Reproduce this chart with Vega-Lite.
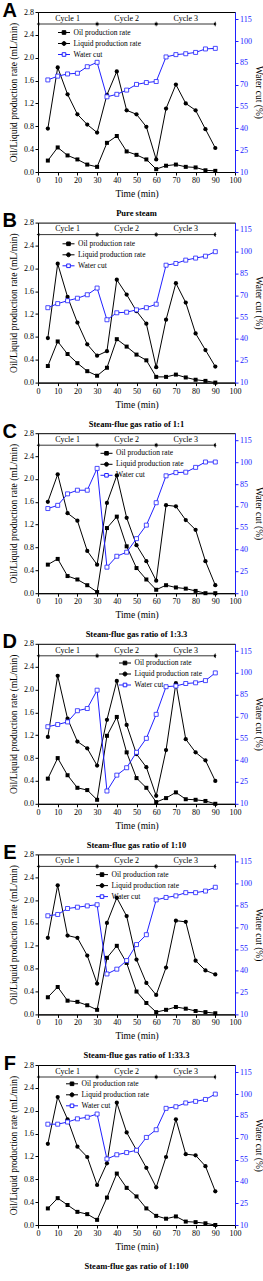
{
"$schema": "https://vega.github.io/schema/vega-lite/v6.json",
"padding": {"left": 2, "top": 0, "right": 0, "bottom": 0},
"background": "white",
"spacing": -7.4,
"resolve": {"scale": {"shape": "independent", "fill": "independent", "stroke": "independent"}, "legend": {"shape": "independent", "fill": "independent", "stroke": "independent"}},
"datasets": {
"A": [
{"time":5,"oil":0.20,"liquid":0.76,"water":73.3},{"time":10,"oil":0.43,"liquid":1.83,"water":75.9},{"time":15,"oil":0.29,"liquid":1.36,"water":77.4},{"time":20,"oil":0.22,"liquid":1.01,"water":77.9},{"time":25,"oil":0.13,"liquid":0.83,"water":82.4},{"time":30,"oil":0.09,"liquid":0.69,"water":85.4},{"time":35,"oil":0.51,"liquid":1.35,"water":61.7},{"time":40,"oil":0.63,"liquid":1.76,"water":63.4},{"time":45,"oil":0.36,"liquid":1.08,"water":66.3},{"time":50,"oil":0.30,"liquid":1.01,"water":70.2},{"time":55,"oil":0.22,"liquid":0.79,"water":71.5},{"time":60,"oil":0.05,"liquid":0.22,"water":72.2},{"time":65,"oil":0.11,"liquid":1.11,"water":89.1},{"time":70,"oil":0.13,"liquid":1.53,"water":90.7},{"time":75,"oil":0.09,"liquid":1.20,"water":91.3},{"time":80,"oil":0.08,"liquid":1.08,"water":92.2},{"time":85,"oil":0.03,"liquid":0.75,"water":94.6},{"time":90,"oil":0.02,"liquid":0.42,"water":95.0}],
"B": [
{"time":5,"oil":0.29,"liquid":0.78,"water":61.5},{"time":10,"oil":0.72,"liquid":2.08,"water":64.3},{"time":15,"oil":0.50,"liquid":1.50,"water":66.3},{"time":20,"oil":0.34,"liquid":1.05,"water":68.0},{"time":25,"oil":0.20,"liquid":0.67,"water":70.4},{"time":30,"oil":0.12,"liquid":0.47,"water":75.0},{"time":35,"oil":0.26,"liquid":0.55,"water":53.2},{"time":40,"oil":0.76,"liquid":1.80,"water":58.0},{"time":45,"oil":0.63,"liquid":1.54,"water":58.4},{"time":50,"oil":0.49,"liquid":1.25,"water":60.0},{"time":55,"oil":0.39,"liquid":1.03,"water":61.5},{"time":60,"oil":0.10,"liquid":0.27,"water":63.9},{"time":65,"oil":0.10,"liquid":1.10,"water":90.7},{"time":70,"oil":0.14,"liquid":1.74,"water":91.9},{"time":75,"oil":0.09,"liquid":1.40,"water":94.2},{"time":80,"oil":0.05,"liquid":0.86,"water":95.6},{"time":85,"oil":0.03,"liquid":0.57,"water":96.9},{"time":90,"oil":0.00,"liquid":0.28,"water":100.0}],
"C": [
{"time":5,"oil":0.50,"liquid":1.60,"water":68.2},{"time":10,"oil":0.60,"liquid":2.08,"water":70.4},{"time":15,"oil":0.30,"liquid":1.40,"water":78.3},{"time":20,"oil":0.24,"liquid":1.27,"water":80.8},{"time":25,"oil":0.14,"liquid":0.74,"water":80.8},{"time":30,"oil":0.02,"liquid":0.50,"water":95.8},{"time":35,"oil":1.14,"liquid":1.58,"water":27.9},{"time":40,"oil":1.34,"liquid":2.06,"water":35.4},{"time":45,"oil":0.82,"liquid":1.32,"water":38.2},{"time":50,"oil":0.44,"liquid":0.84,"water":47.5},{"time":55,"oil":0.24,"liquid":0.56,"water":56.8},{"time":60,"oil":0.06,"liquid":0.22,"water":72.2},{"time":65,"oil":0.14,"liquid":1.54,"water":90.7},{"time":70,"oil":0.10,"liquid":1.52,"water":92.9},{"time":75,"oil":0.08,"liquid":1.28,"water":93.2},{"time":80,"oil":0.04,"liquid":1.11,"water":96.5},{"time":85,"oil":0.00,"liquid":0.56,"water":100.2},{"time":90,"oil":0.00,"liquid":0.14,"water":100.2}],
"D": [
{"time":5,"oil":0.44,"liquid":1.17,"water":63.0},{"time":10,"oil":0.80,"liquid":2.24,"water":64.5},{"time":15,"oil":0.50,"liquid":1.49,"water":66.3},{"time":20,"oil":0.28,"liquid":1.09,"water":74.0},{"time":25,"oil":0.24,"liquid":0.97,"water":75.5},{"time":30,"oil":0.07,"liquid":0.67,"water":88.1},{"time":35,"oil":1.19,"liquid":1.47,"water":18.8},{"time":40,"oil":1.52,"liquid":2.15,"water":29.7},{"time":45,"oil":0.90,"liquid":1.38,"water":34.8},{"time":50,"oil":0.45,"liquid":0.87,"water":45.4},{"time":55,"oil":0.28,"liquid":0.64,"water":55.0},{"time":60,"oil":0.03,"liquid":0.14,"water":71.5},{"time":65,"oil":0.10,"liquid":0.94,"water":90.5},{"time":70,"oil":0.20,"liquid":2.11,"water":91.0},{"time":75,"oil":0.08,"liquid":1.13,"water":92.7},{"time":80,"oil":0.07,"liquid":0.90,"water":93.2},{"time":85,"oil":0.05,"liquid":0.76,"water":94.7},{"time":90,"oil":0.00,"liquid":0.40,"water":100.0}],
"E": [
{"time":5,"oil":0.30,"liquid":1.34,"water":77.8},{"time":10,"oil":0.48,"liquid":2.26,"water":78.7},{"time":15,"oil":0.24,"liquid":1.38,"water":82.8},{"time":20,"oil":0.22,"liquid":1.34,"water":83.7},{"time":25,"oil":0.16,"liquid":1.03,"water":84.6},{"time":30,"oil":0.08,"liquid":0.54,"water":85.4},{"time":35,"oil":0.99,"liquid":1.60,"water":37.8},{"time":40,"oil":1.20,"liquid":2.04,"water":41.1},{"time":45,"oil":0.90,"liquid":1.72,"water":47.0},{"time":50,"oil":0.40,"liquid":0.96,"water":58.0},{"time":55,"oil":0.20,"liquid":0.55,"water":64.8},{"time":60,"oil":0.04,"liquid":0.34,"water":88.7},{"time":65,"oil":0.08,"liquid":0.82,"water":90.4},{"time":70,"oil":0.13,"liquid":1.64,"water":91.5},{"time":75,"oil":0.10,"liquid":1.62,"water":93.7},{"time":80,"oil":0.06,"liquid":0.94,"water":93.7},{"time":85,"oil":0.04,"liquid":0.77,"water":94.8},{"time":90,"oil":0.02,"liquid":0.70,"water":97.4}],
"F": [
{"time":5,"oil":0.29,"liquid":1.42,"water":79.3},{"time":10,"oil":0.47,"liquid":2.24,"water":79.3},{"time":15,"oil":0.35,"liquid":1.85,"water":80.8},{"time":20,"oil":0.23,"liquid":1.37,"water":83.0},{"time":25,"oil":0.19,"liquid":1.19,"water":84.1},{"time":30,"oil":0.09,"liquid":0.70,"water":86.3},{"time":35,"oil":0.48,"liquid":1.08,"water":55.4},{"time":40,"oil":0.90,"liquid":2.14,"water":58.3},{"time":45,"oil":0.65,"liquid":1.62,"water":59.8},{"time":50,"oil":0.50,"liquid":1.31,"water":61.4},{"time":55,"oil":0.29,"liquid":1.00,"water":70.2},{"time":60,"oil":0.16,"liquid":0.66,"water":75.5},{"time":65,"oil":0.11,"liquid":1.19,"water":90.2},{"time":70,"oil":0.15,"liquid":1.85,"water":91.3},{"time":75,"oil":0.06,"liquid":1.24,"water":93.9},{"time":80,"oil":0.05,"liquid":1.22,"water":95.0},{"time":85,"oil":0.03,"liquid":1.03,"water":96.3},{"time":90,"oil":0.00,"liquid":0.59,"water":100.0}],
"cyc": [
{"label":"Cycle 1","start":0,"end":30,"mid":15},
{"label":"Cycle 2","start":30,"end":60,"mid":45},
{"label":"Cycle 3","start":60,"end":90,"mid":75}],
"leg": [
{"series":"Oil production rate"},{"series":"Liquid production rate"},{"series":"Water cut"}]
},
"vconcat": [
{"width": 197, "height": 160,
 "title": {"text": "Pure steam", "orient": "bottom", "anchor": "middle", "frame": "group", "offset": 11},
 "layer": [
  {"data": {"name": "A"}, "layer": [
   {"mark": {"type": "line", "color": "black", "strokeWidth": 1}, "encoding": {"x": {"field": "time", "type": "quantitative", "scale": {"domain": [0, 100]}, "axis": {"values": [0,10,20,30,40,50,60,70,80,90,100], "title": "Time (min)", "labelOverlap": false}}, "y": {"field": "oil", "type": "quantitative", "scale": {"domain": [0, 2.8]}, "axis": {"values": [0,0.4,0.8,1.2,1.6,2.0,2.4,2.8], "format": ".1f", "title": "Oil/Liquid production rate (mL/min)", "labelOverlap": false}}}},
   {"mark": {"type": "point", "shape": "square", "filled": true, "color": "black", "size": 16, "opacity": 1}, "encoding": {"x": {"field": "time", "type": "quantitative", "axis": {"values": [0,10,20,30,40,50,60,70,80,90,100], "title": "Time (min)", "labelOverlap": false}}, "y": {"field": "oil", "type": "quantitative", "axis": {"values": [0,0.4,0.8,1.2,1.6,2.0,2.4,2.8], "format": ".1f", "title": "Oil/Liquid production rate (mL/min)", "labelOverlap": false}}}},
   {"mark": {"type": "line", "color": "black", "strokeWidth": 1}, "encoding": {"x": {"field": "time", "type": "quantitative", "axis": {"values": [0,10,20,30,40,50,60,70,80,90,100], "title": "Time (min)", "labelOverlap": false}}, "y": {"field": "liquid", "type": "quantitative", "axis": {"values": [0,0.4,0.8,1.2,1.6,2.0,2.4,2.8], "format": ".1f", "title": "Oil/Liquid production rate (mL/min)", "labelOverlap": false}}}},
   {"mark": {"type": "point", "shape": "circle", "filled": true, "color": "black", "size": 18, "opacity": 1}, "encoding": {"x": {"field": "time", "type": "quantitative", "axis": {"values": [0,10,20,30,40,50,60,70,80,90,100], "title": "Time (min)", "labelOverlap": false}}, "y": {"field": "liquid", "type": "quantitative", "axis": {"values": [0,0.4,0.8,1.2,1.6,2.0,2.4,2.8], "format": ".1f", "title": "Oil/Liquid production rate (mL/min)", "labelOverlap": false}}}},
   {"data": {"name": "cyc"}, "mark": {"type": "rule", "color": "black", "strokeWidth": 0.8}, "encoding": {"x": {"field": "start", "type": "quantitative", "axis": {"values": [0,10,20,30,40,50,60,70,80,90,100], "title": "Time (min)", "labelOverlap": false}}, "x2": {"field": "end"}, "y": {"datum": 2.59, "axis": {"values": [0,0.4,0.8,1.2,1.6,2.0,2.4,2.8], "format": ".1f", "title": "Oil/Liquid production rate (mL/min)", "labelOverlap": false}}}},
   {"data": {"name": "cyc"}, "mark": {"type": "rule", "color": "black", "strokeWidth": 0.8}, "encoding": {"x": {"field": "end", "type": "quantitative", "axis": {"values": [0,10,20,30,40,50,60,70,80,90,100], "title": "Time (min)", "labelOverlap": false}}, "y": {"datum": 2.55, "axis": {"values": [0,0.4,0.8,1.2,1.6,2.0,2.4,2.8], "format": ".1f", "title": "Oil/Liquid production rate (mL/min)", "labelOverlap": false}}, "y2": {"datum": 2.63}}},
   {"data": {"name": "cyc"}, "mark": {"type": "point", "shape": "triangle-left", "filled": true, "color": "black", "size": 10, "opacity": 1}, "encoding": {"x": {"field": "start", "type": "quantitative", "axis": {"values": [0,10,20,30,40,50,60,70,80,90,100], "title": "Time (min)", "labelOverlap": false}}, "y": {"datum": 2.59, "axis": {"values": [0,0.4,0.8,1.2,1.6,2.0,2.4,2.8], "format": ".1f", "title": "Oil/Liquid production rate (mL/min)", "labelOverlap": false}}}},
   {"data": {"name": "cyc"}, "mark": {"type": "point", "shape": "triangle-right", "filled": true, "color": "black", "size": 10, "opacity": 1}, "encoding": {"x": {"field": "end", "type": "quantitative", "axis": {"values": [0,10,20,30,40,50,60,70,80,90,100], "title": "Time (min)", "labelOverlap": false}}, "y": {"datum": 2.59, "axis": {"values": [0,0.4,0.8,1.2,1.6,2.0,2.4,2.8], "format": ".1f", "title": "Oil/Liquid production rate (mL/min)", "labelOverlap": false}}}},
   {"data": {"name": "cyc"}, "mark": {"type": "text", "font": "Liberation Serif", "fontSize": 8, "color": "black"}, "encoding": {"x": {"field": "mid", "type": "quantitative", "axis": {"values": [0,10,20,30,40,50,60,70,80,90,100], "title": "Time (min)", "labelOverlap": false}}, "y": {"datum": 2.68, "axis": {"values": [0,0.4,0.8,1.2,1.6,2.0,2.4,2.8], "format": ".1f", "title": "Oil/Liquid production rate (mL/min)", "labelOverlap": false}}, "text": {"field": "label"}}},
   {"data": {"values": [{"panel": "A"}]}, "mark": {"type": "text", "font": "Liberation Sans", "fontSize": 20, "fontWeight": "bold", "color": "black", "align": "center", "baseline": "alphabetic"}, "encoding": {"x": {"datum": -14.3, "axis": {"values": [0,10,20,30,40,50,60,70,80,90,100], "title": "Time (min)", "labelOverlap": false}}, "y": {"datum": 2.72, "axis": {"values": [0,0.4,0.8,1.2,1.6,2.0,2.4,2.8], "format": ".1f", "title": "Oil/Liquid production rate (mL/min)", "labelOverlap": false}}, "text": {"field": "panel"}}},
   {"data": {"name": "leg"}, "mark": {"type": "point", "opacity": 0, "size": 144}, "encoding": {
     "shape": {"field": "series", "type": "nominal", "scale": {"domain": ["Oil production rate", "Liquid production rate", "Water cut"], "range": ["M-1,0H1M-0.3,-0.3H0.3V0.3H-0.3Z", "M-1,0H1M0.33,0A0.33,0.33 0 1,1 -0.33,0A0.33,0.33 0 1,1 0.33,0Z", "M-1,0H-0.3M0.3,0H1M-0.3,-0.3H0.3V0.3H-0.3Z"]}, "legend": {"orient": "none", "legendX": 19.5, "legendY": 14}},
     "fill": {"field": "series", "type": "nominal", "scale": {"domain": ["Oil production rate", "Liquid production rate", "Water cut"], "range": ["black", "black", "white"]}, "legend": {"orient": "none", "legendX": 19.5, "legendY": 14}},
     "stroke": {"field": "series", "type": "nominal", "scale": {"domain": ["Oil production rate", "Liquid production rate", "Water cut"], "range": ["black", "black", "#2020ff"]}, "legend": {"orient": "none", "legendX": 19.5, "legendY": 14}}}}
  ]},
  {"data": {"name": "A"}, "layer": [
   {"mark": {"type": "line", "color": "#2020ff", "strokeWidth": 1}, "encoding": {"x": {"field": "time", "type": "quantitative", "axis": {"values": [0,10,20,30,40,50,60,70,80,90,100], "title": "Time (min)", "labelOverlap": false}}, "y": {"field": "water", "type": "quantitative", "scale": {"domain": [10, 115]}, "axis": {"orient": "right", "values": [10,25,40,55,70,85,100,115], "title": "Water cut (%)", "labelColor": "#2020ff", "tickColor": "#2020ff", "domainColor": "#2020ff", "titlePadding": 1.5, "labelOverlap": false}}}},
   {"mark": {"type": "point", "shape": "square", "filled": true, "fill": "white", "stroke": "#2020ff", "strokeWidth": 0.8, "size": 16, "opacity": 1}, "encoding": {"x": {"field": "time", "type": "quantitative", "axis": {"values": [0,10,20,30,40,50,60,70,80,90,100], "title": "Time (min)", "labelOverlap": false}}, "y": {"field": "water", "type": "quantitative", "axis": {"orient": "right", "values": [10,25,40,55,70,85,100,115], "title": "Water cut (%)", "labelColor": "#2020ff", "tickColor": "#2020ff", "domainColor": "#2020ff", "titlePadding": 1.5, "labelOverlap": false}}}}
  ]}
 ],
 "resolve": {"scale": {"y": "independent"}}
},
{"width": 197, "height": 160,
 "title": {"text": "Steam-flue gas ratio of 1:1", "orient": "bottom", "anchor": "middle", "frame": "group", "offset": 11},
 "layer": [
  {"data": {"name": "B"}, "layer": [
   {"mark": {"type": "line", "color": "black", "strokeWidth": 1}, "encoding": {"x": {"field": "time", "type": "quantitative", "scale": {"domain": [0, 100]}, "axis": {"values": [0,10,20,30,40,50,60,70,80,90,100], "title": "Time (min)", "labelOverlap": false}}, "y": {"field": "oil", "type": "quantitative", "scale": {"domain": [0, 2.8]}, "axis": {"values": [0,0.4,0.8,1.2,1.6,2.0,2.4,2.8], "format": ".1f", "title": "Oil/Liquid production rate (mL/min)", "labelOverlap": false}}}},
   {"mark": {"type": "point", "shape": "square", "filled": true, "color": "black", "size": 16, "opacity": 1}, "encoding": {"x": {"field": "time", "type": "quantitative", "axis": {"values": [0,10,20,30,40,50,60,70,80,90,100], "title": "Time (min)", "labelOverlap": false}}, "y": {"field": "oil", "type": "quantitative", "axis": {"values": [0,0.4,0.8,1.2,1.6,2.0,2.4,2.8], "format": ".1f", "title": "Oil/Liquid production rate (mL/min)", "labelOverlap": false}}}},
   {"mark": {"type": "line", "color": "black", "strokeWidth": 1}, "encoding": {"x": {"field": "time", "type": "quantitative", "axis": {"values": [0,10,20,30,40,50,60,70,80,90,100], "title": "Time (min)", "labelOverlap": false}}, "y": {"field": "liquid", "type": "quantitative", "axis": {"values": [0,0.4,0.8,1.2,1.6,2.0,2.4,2.8], "format": ".1f", "title": "Oil/Liquid production rate (mL/min)", "labelOverlap": false}}}},
   {"mark": {"type": "point", "shape": "circle", "filled": true, "color": "black", "size": 18, "opacity": 1}, "encoding": {"x": {"field": "time", "type": "quantitative", "axis": {"values": [0,10,20,30,40,50,60,70,80,90,100], "title": "Time (min)", "labelOverlap": false}}, "y": {"field": "liquid", "type": "quantitative", "axis": {"values": [0,0.4,0.8,1.2,1.6,2.0,2.4,2.8], "format": ".1f", "title": "Oil/Liquid production rate (mL/min)", "labelOverlap": false}}}},
   {"data": {"name": "cyc"}, "mark": {"type": "rule", "color": "black", "strokeWidth": 0.8}, "encoding": {"x": {"field": "start", "type": "quantitative", "axis": {"values": [0,10,20,30,40,50,60,70,80,90,100], "title": "Time (min)", "labelOverlap": false}}, "x2": {"field": "end"}, "y": {"datum": 2.59, "axis": {"values": [0,0.4,0.8,1.2,1.6,2.0,2.4,2.8], "format": ".1f", "title": "Oil/Liquid production rate (mL/min)", "labelOverlap": false}}}},
   {"data": {"name": "cyc"}, "mark": {"type": "rule", "color": "black", "strokeWidth": 0.8}, "encoding": {"x": {"field": "end", "type": "quantitative", "axis": {"values": [0,10,20,30,40,50,60,70,80,90,100], "title": "Time (min)", "labelOverlap": false}}, "y": {"datum": 2.55, "axis": {"values": [0,0.4,0.8,1.2,1.6,2.0,2.4,2.8], "format": ".1f", "title": "Oil/Liquid production rate (mL/min)", "labelOverlap": false}}, "y2": {"datum": 2.63}}},
   {"data": {"name": "cyc"}, "mark": {"type": "point", "shape": "triangle-left", "filled": true, "color": "black", "size": 10, "opacity": 1}, "encoding": {"x": {"field": "start", "type": "quantitative", "axis": {"values": [0,10,20,30,40,50,60,70,80,90,100], "title": "Time (min)", "labelOverlap": false}}, "y": {"datum": 2.59, "axis": {"values": [0,0.4,0.8,1.2,1.6,2.0,2.4,2.8], "format": ".1f", "title": "Oil/Liquid production rate (mL/min)", "labelOverlap": false}}}},
   {"data": {"name": "cyc"}, "mark": {"type": "point", "shape": "triangle-right", "filled": true, "color": "black", "size": 10, "opacity": 1}, "encoding": {"x": {"field": "end", "type": "quantitative", "axis": {"values": [0,10,20,30,40,50,60,70,80,90,100], "title": "Time (min)", "labelOverlap": false}}, "y": {"datum": 2.59, "axis": {"values": [0,0.4,0.8,1.2,1.6,2.0,2.4,2.8], "format": ".1f", "title": "Oil/Liquid production rate (mL/min)", "labelOverlap": false}}}},
   {"data": {"name": "cyc"}, "mark": {"type": "text", "font": "Liberation Serif", "fontSize": 8, "color": "black"}, "encoding": {"x": {"field": "mid", "type": "quantitative", "axis": {"values": [0,10,20,30,40,50,60,70,80,90,100], "title": "Time (min)", "labelOverlap": false}}, "y": {"datum": 2.68, "axis": {"values": [0,0.4,0.8,1.2,1.6,2.0,2.4,2.8], "format": ".1f", "title": "Oil/Liquid production rate (mL/min)", "labelOverlap": false}}, "text": {"field": "label"}}},
   {"data": {"values": [{"panel": "B"}]}, "mark": {"type": "text", "font": "Liberation Sans", "fontSize": 20, "fontWeight": "bold", "color": "black", "align": "center", "baseline": "alphabetic"}, "encoding": {"x": {"datum": -14.3, "axis": {"values": [0,10,20,30,40,50,60,70,80,90,100], "title": "Time (min)", "labelOverlap": false}}, "y": {"datum": 2.72, "axis": {"values": [0,0.4,0.8,1.2,1.6,2.0,2.4,2.8], "format": ".1f", "title": "Oil/Liquid production rate (mL/min)", "labelOverlap": false}}, "text": {"field": "panel"}}},
   {"data": {"name": "leg"}, "mark": {"type": "point", "opacity": 0, "size": 144}, "encoding": {
     "shape": {"field": "series", "type": "nominal", "scale": {"domain": ["Oil production rate", "Liquid production rate", "Water cut"], "range": ["M-1,0H1M-0.3,-0.3H0.3V0.3H-0.3Z", "M-1,0H1M0.33,0A0.33,0.33 0 1,1 -0.33,0A0.33,0.33 0 1,1 0.33,0Z", "M-1,0H-0.3M0.3,0H1M-0.3,-0.3H0.3V0.3H-0.3Z"]}, "legend": {"orient": "none", "legendX": 24, "legendY": 14.7}},
     "fill": {"field": "series", "type": "nominal", "scale": {"domain": ["Oil production rate", "Liquid production rate", "Water cut"], "range": ["black", "black", "white"]}, "legend": {"orient": "none", "legendX": 24, "legendY": 14.7}},
     "stroke": {"field": "series", "type": "nominal", "scale": {"domain": ["Oil production rate", "Liquid production rate", "Water cut"], "range": ["black", "black", "#2020ff"]}, "legend": {"orient": "none", "legendX": 24, "legendY": 14.7}}}}
  ]},
  {"data": {"name": "B"}, "layer": [
   {"mark": {"type": "line", "color": "#2020ff", "strokeWidth": 1}, "encoding": {"x": {"field": "time", "type": "quantitative", "axis": {"values": [0,10,20,30,40,50,60,70,80,90,100], "title": "Time (min)", "labelOverlap": false}}, "y": {"field": "water", "type": "quantitative", "scale": {"domain": [10, 115]}, "axis": {"orient": "right", "values": [10,25,40,55,70,85,100,115], "title": "Water cut (%)", "labelColor": "#2020ff", "tickColor": "#2020ff", "domainColor": "#2020ff", "titlePadding": 1.5, "labelOverlap": false}}}},
   {"mark": {"type": "point", "shape": "square", "filled": true, "fill": "white", "stroke": "#2020ff", "strokeWidth": 0.8, "size": 16, "opacity": 1}, "encoding": {"x": {"field": "time", "type": "quantitative", "axis": {"values": [0,10,20,30,40,50,60,70,80,90,100], "title": "Time (min)", "labelOverlap": false}}, "y": {"field": "water", "type": "quantitative", "axis": {"orient": "right", "values": [10,25,40,55,70,85,100,115], "title": "Water cut (%)", "labelColor": "#2020ff", "tickColor": "#2020ff", "domainColor": "#2020ff", "titlePadding": 1.5, "labelOverlap": false}}}}
  ]}
 ],
 "resolve": {"scale": {"y": "independent"}}
},
{"width": 197, "height": 160,
 "title": {"text": "Steam-flue gas ratio of 1:3.3", "orient": "bottom", "anchor": "middle", "frame": "group", "offset": 11},
 "layer": [
  {"data": {"name": "C"}, "layer": [
   {"mark": {"type": "line", "color": "black", "strokeWidth": 1}, "encoding": {"x": {"field": "time", "type": "quantitative", "scale": {"domain": [0, 100]}, "axis": {"values": [0,10,20,30,40,50,60,70,80,90,100], "title": "Time (min)", "labelOverlap": false}}, "y": {"field": "oil", "type": "quantitative", "scale": {"domain": [0, 2.8]}, "axis": {"values": [0,0.4,0.8,1.2,1.6,2.0,2.4,2.8], "format": ".1f", "title": "Oil/Liquid production rate (mL/min)", "labelOverlap": false}}}},
   {"mark": {"type": "point", "shape": "square", "filled": true, "color": "black", "size": 16, "opacity": 1}, "encoding": {"x": {"field": "time", "type": "quantitative", "axis": {"values": [0,10,20,30,40,50,60,70,80,90,100], "title": "Time (min)", "labelOverlap": false}}, "y": {"field": "oil", "type": "quantitative", "axis": {"values": [0,0.4,0.8,1.2,1.6,2.0,2.4,2.8], "format": ".1f", "title": "Oil/Liquid production rate (mL/min)", "labelOverlap": false}}}},
   {"mark": {"type": "line", "color": "black", "strokeWidth": 1}, "encoding": {"x": {"field": "time", "type": "quantitative", "axis": {"values": [0,10,20,30,40,50,60,70,80,90,100], "title": "Time (min)", "labelOverlap": false}}, "y": {"field": "liquid", "type": "quantitative", "axis": {"values": [0,0.4,0.8,1.2,1.6,2.0,2.4,2.8], "format": ".1f", "title": "Oil/Liquid production rate (mL/min)", "labelOverlap": false}}}},
   {"mark": {"type": "point", "shape": "circle", "filled": true, "color": "black", "size": 18, "opacity": 1}, "encoding": {"x": {"field": "time", "type": "quantitative", "axis": {"values": [0,10,20,30,40,50,60,70,80,90,100], "title": "Time (min)", "labelOverlap": false}}, "y": {"field": "liquid", "type": "quantitative", "axis": {"values": [0,0.4,0.8,1.2,1.6,2.0,2.4,2.8], "format": ".1f", "title": "Oil/Liquid production rate (mL/min)", "labelOverlap": false}}}},
   {"data": {"name": "cyc"}, "mark": {"type": "rule", "color": "black", "strokeWidth": 0.8}, "encoding": {"x": {"field": "start", "type": "quantitative", "axis": {"values": [0,10,20,30,40,50,60,70,80,90,100], "title": "Time (min)", "labelOverlap": false}}, "x2": {"field": "end"}, "y": {"datum": 2.59, "axis": {"values": [0,0.4,0.8,1.2,1.6,2.0,2.4,2.8], "format": ".1f", "title": "Oil/Liquid production rate (mL/min)", "labelOverlap": false}}}},
   {"data": {"name": "cyc"}, "mark": {"type": "rule", "color": "black", "strokeWidth": 0.8}, "encoding": {"x": {"field": "end", "type": "quantitative", "axis": {"values": [0,10,20,30,40,50,60,70,80,90,100], "title": "Time (min)", "labelOverlap": false}}, "y": {"datum": 2.55, "axis": {"values": [0,0.4,0.8,1.2,1.6,2.0,2.4,2.8], "format": ".1f", "title": "Oil/Liquid production rate (mL/min)", "labelOverlap": false}}, "y2": {"datum": 2.63}}},
   {"data": {"name": "cyc"}, "mark": {"type": "point", "shape": "triangle-left", "filled": true, "color": "black", "size": 10, "opacity": 1}, "encoding": {"x": {"field": "start", "type": "quantitative", "axis": {"values": [0,10,20,30,40,50,60,70,80,90,100], "title": "Time (min)", "labelOverlap": false}}, "y": {"datum": 2.59, "axis": {"values": [0,0.4,0.8,1.2,1.6,2.0,2.4,2.8], "format": ".1f", "title": "Oil/Liquid production rate (mL/min)", "labelOverlap": false}}}},
   {"data": {"name": "cyc"}, "mark": {"type": "point", "shape": "triangle-right", "filled": true, "color": "black", "size": 10, "opacity": 1}, "encoding": {"x": {"field": "end", "type": "quantitative", "axis": {"values": [0,10,20,30,40,50,60,70,80,90,100], "title": "Time (min)", "labelOverlap": false}}, "y": {"datum": 2.59, "axis": {"values": [0,0.4,0.8,1.2,1.6,2.0,2.4,2.8], "format": ".1f", "title": "Oil/Liquid production rate (mL/min)", "labelOverlap": false}}}},
   {"data": {"name": "cyc"}, "mark": {"type": "text", "font": "Liberation Serif", "fontSize": 8, "color": "black"}, "encoding": {"x": {"field": "mid", "type": "quantitative", "axis": {"values": [0,10,20,30,40,50,60,70,80,90,100], "title": "Time (min)", "labelOverlap": false}}, "y": {"datum": 2.68, "axis": {"values": [0,0.4,0.8,1.2,1.6,2.0,2.4,2.8], "format": ".1f", "title": "Oil/Liquid production rate (mL/min)", "labelOverlap": false}}, "text": {"field": "label"}}},
   {"data": {"values": [{"panel": "C"}]}, "mark": {"type": "text", "font": "Liberation Sans", "fontSize": 20, "fontWeight": "bold", "color": "black", "align": "center", "baseline": "alphabetic"}, "encoding": {"x": {"datum": -14.3, "axis": {"values": [0,10,20,30,40,50,60,70,80,90,100], "title": "Time (min)", "labelOverlap": false}}, "y": {"datum": 2.72, "axis": {"values": [0,0.4,0.8,1.2,1.6,2.0,2.4,2.8], "format": ".1f", "title": "Oil/Liquid production rate (mL/min)", "labelOverlap": false}}, "text": {"field": "panel"}}},
   {"data": {"name": "leg"}, "mark": {"type": "point", "opacity": 0, "size": 144}, "encoding": {
     "shape": {"field": "series", "type": "nominal", "scale": {"domain": ["Oil production rate", "Liquid production rate", "Water cut"], "range": ["M-1,0H1M-0.3,-0.3H0.3V0.3H-0.3Z", "M-1,0H1M0.33,0A0.33,0.33 0 1,1 -0.33,0A0.33,0.33 0 1,1 0.33,0Z", "M-1,0H-0.3M0.3,0H1M-0.3,-0.3H0.3V0.3H-0.3Z"]}, "legend": {"orient": "none", "legendX": 62, "legendY": 13.6}},
     "fill": {"field": "series", "type": "nominal", "scale": {"domain": ["Oil production rate", "Liquid production rate", "Water cut"], "range": ["black", "black", "white"]}, "legend": {"orient": "none", "legendX": 62, "legendY": 13.6}},
     "stroke": {"field": "series", "type": "nominal", "scale": {"domain": ["Oil production rate", "Liquid production rate", "Water cut"], "range": ["black", "black", "#2020ff"]}, "legend": {"orient": "none", "legendX": 62, "legendY": 13.6}}}}
  ]},
  {"data": {"name": "C"}, "layer": [
   {"mark": {"type": "line", "color": "#2020ff", "strokeWidth": 1}, "encoding": {"x": {"field": "time", "type": "quantitative", "axis": {"values": [0,10,20,30,40,50,60,70,80,90,100], "title": "Time (min)", "labelOverlap": false}}, "y": {"field": "water", "type": "quantitative", "scale": {"domain": [10, 115]}, "axis": {"orient": "right", "values": [10,25,40,55,70,85,100,115], "title": "Water cut (%)", "labelColor": "#2020ff", "tickColor": "#2020ff", "domainColor": "#2020ff", "titlePadding": 1.5, "labelOverlap": false}}}},
   {"mark": {"type": "point", "shape": "square", "filled": true, "fill": "white", "stroke": "#2020ff", "strokeWidth": 0.8, "size": 16, "opacity": 1}, "encoding": {"x": {"field": "time", "type": "quantitative", "axis": {"values": [0,10,20,30,40,50,60,70,80,90,100], "title": "Time (min)", "labelOverlap": false}}, "y": {"field": "water", "type": "quantitative", "axis": {"orient": "right", "values": [10,25,40,55,70,85,100,115], "title": "Water cut (%)", "labelColor": "#2020ff", "tickColor": "#2020ff", "domainColor": "#2020ff", "titlePadding": 1.5, "labelOverlap": false}}}}
  ]}
 ],
 "resolve": {"scale": {"y": "independent"}}
},
{"width": 197, "height": 160,
 "title": {"text": "Steam-flue gas ratio of 1:10", "orient": "bottom", "anchor": "middle", "frame": "group", "offset": 11},
 "layer": [
  {"data": {"name": "D"}, "layer": [
   {"mark": {"type": "line", "color": "black", "strokeWidth": 1}, "encoding": {"x": {"field": "time", "type": "quantitative", "scale": {"domain": [0, 100]}, "axis": {"values": [0,10,20,30,40,50,60,70,80,90,100], "title": "Time (min)", "labelOverlap": false}}, "y": {"field": "oil", "type": "quantitative", "scale": {"domain": [0, 2.8]}, "axis": {"values": [0,0.4,0.8,1.2,1.6,2.0,2.4,2.8], "format": ".1f", "title": "Oil/Liquid production rate (mL/min)", "labelOverlap": false}}}},
   {"mark": {"type": "point", "shape": "square", "filled": true, "color": "black", "size": 16, "opacity": 1}, "encoding": {"x": {"field": "time", "type": "quantitative", "axis": {"values": [0,10,20,30,40,50,60,70,80,90,100], "title": "Time (min)", "labelOverlap": false}}, "y": {"field": "oil", "type": "quantitative", "axis": {"values": [0,0.4,0.8,1.2,1.6,2.0,2.4,2.8], "format": ".1f", "title": "Oil/Liquid production rate (mL/min)", "labelOverlap": false}}}},
   {"mark": {"type": "line", "color": "black", "strokeWidth": 1}, "encoding": {"x": {"field": "time", "type": "quantitative", "axis": {"values": [0,10,20,30,40,50,60,70,80,90,100], "title": "Time (min)", "labelOverlap": false}}, "y": {"field": "liquid", "type": "quantitative", "axis": {"values": [0,0.4,0.8,1.2,1.6,2.0,2.4,2.8], "format": ".1f", "title": "Oil/Liquid production rate (mL/min)", "labelOverlap": false}}}},
   {"mark": {"type": "point", "shape": "circle", "filled": true, "color": "black", "size": 18, "opacity": 1}, "encoding": {"x": {"field": "time", "type": "quantitative", "axis": {"values": [0,10,20,30,40,50,60,70,80,90,100], "title": "Time (min)", "labelOverlap": false}}, "y": {"field": "liquid", "type": "quantitative", "axis": {"values": [0,0.4,0.8,1.2,1.6,2.0,2.4,2.8], "format": ".1f", "title": "Oil/Liquid production rate (mL/min)", "labelOverlap": false}}}},
   {"data": {"name": "cyc"}, "mark": {"type": "rule", "color": "black", "strokeWidth": 0.8}, "encoding": {"x": {"field": "start", "type": "quantitative", "axis": {"values": [0,10,20,30,40,50,60,70,80,90,100], "title": "Time (min)", "labelOverlap": false}}, "x2": {"field": "end"}, "y": {"datum": 2.59, "axis": {"values": [0,0.4,0.8,1.2,1.6,2.0,2.4,2.8], "format": ".1f", "title": "Oil/Liquid production rate (mL/min)", "labelOverlap": false}}}},
   {"data": {"name": "cyc"}, "mark": {"type": "rule", "color": "black", "strokeWidth": 0.8}, "encoding": {"x": {"field": "end", "type": "quantitative", "axis": {"values": [0,10,20,30,40,50,60,70,80,90,100], "title": "Time (min)", "labelOverlap": false}}, "y": {"datum": 2.55, "axis": {"values": [0,0.4,0.8,1.2,1.6,2.0,2.4,2.8], "format": ".1f", "title": "Oil/Liquid production rate (mL/min)", "labelOverlap": false}}, "y2": {"datum": 2.63}}},
   {"data": {"name": "cyc"}, "mark": {"type": "point", "shape": "triangle-left", "filled": true, "color": "black", "size": 10, "opacity": 1}, "encoding": {"x": {"field": "start", "type": "quantitative", "axis": {"values": [0,10,20,30,40,50,60,70,80,90,100], "title": "Time (min)", "labelOverlap": false}}, "y": {"datum": 2.59, "axis": {"values": [0,0.4,0.8,1.2,1.6,2.0,2.4,2.8], "format": ".1f", "title": "Oil/Liquid production rate (mL/min)", "labelOverlap": false}}}},
   {"data": {"name": "cyc"}, "mark": {"type": "point", "shape": "triangle-right", "filled": true, "color": "black", "size": 10, "opacity": 1}, "encoding": {"x": {"field": "end", "type": "quantitative", "axis": {"values": [0,10,20,30,40,50,60,70,80,90,100], "title": "Time (min)", "labelOverlap": false}}, "y": {"datum": 2.59, "axis": {"values": [0,0.4,0.8,1.2,1.6,2.0,2.4,2.8], "format": ".1f", "title": "Oil/Liquid production rate (mL/min)", "labelOverlap": false}}}},
   {"data": {"name": "cyc"}, "mark": {"type": "text", "font": "Liberation Serif", "fontSize": 8, "color": "black"}, "encoding": {"x": {"field": "mid", "type": "quantitative", "axis": {"values": [0,10,20,30,40,50,60,70,80,90,100], "title": "Time (min)", "labelOverlap": false}}, "y": {"datum": 2.68, "axis": {"values": [0,0.4,0.8,1.2,1.6,2.0,2.4,2.8], "format": ".1f", "title": "Oil/Liquid production rate (mL/min)", "labelOverlap": false}}, "text": {"field": "label"}}},
   {"data": {"values": [{"panel": "D"}]}, "mark": {"type": "text", "font": "Liberation Sans", "fontSize": 20, "fontWeight": "bold", "color": "black", "align": "center", "baseline": "alphabetic"}, "encoding": {"x": {"datum": -14.3, "axis": {"values": [0,10,20,30,40,50,60,70,80,90,100], "title": "Time (min)", "labelOverlap": false}}, "y": {"datum": 2.72, "axis": {"values": [0,0.4,0.8,1.2,1.6,2.0,2.4,2.8], "format": ".1f", "title": "Oil/Liquid production rate (mL/min)", "labelOverlap": false}}, "text": {"field": "panel"}}},
   {"data": {"name": "leg"}, "mark": {"type": "point", "opacity": 0, "size": 144}, "encoding": {
     "shape": {"field": "series", "type": "nominal", "scale": {"domain": ["Oil production rate", "Liquid production rate", "Water cut"], "range": ["M-1,0H1M-0.3,-0.3H0.3V0.3H-0.3Z", "M-1,0H1M0.33,0A0.33,0.33 0 1,1 -0.33,0A0.33,0.33 0 1,1 0.33,0Z", "M-1,0H-0.3M0.3,0H1M-0.3,-0.3H0.3V0.3H-0.3Z"]}, "legend": {"orient": "none", "legendX": 80.5, "legendY": 12.7}},
     "fill": {"field": "series", "type": "nominal", "scale": {"domain": ["Oil production rate", "Liquid production rate", "Water cut"], "range": ["black", "black", "white"]}, "legend": {"orient": "none", "legendX": 80.5, "legendY": 12.7}},
     "stroke": {"field": "series", "type": "nominal", "scale": {"domain": ["Oil production rate", "Liquid production rate", "Water cut"], "range": ["black", "black", "#2020ff"]}, "legend": {"orient": "none", "legendX": 80.5, "legendY": 12.7}}}}
  ]},
  {"data": {"name": "D"}, "layer": [
   {"mark": {"type": "line", "color": "#2020ff", "strokeWidth": 1}, "encoding": {"x": {"field": "time", "type": "quantitative", "axis": {"values": [0,10,20,30,40,50,60,70,80,90,100], "title": "Time (min)", "labelOverlap": false}}, "y": {"field": "water", "type": "quantitative", "scale": {"domain": [10, 115]}, "axis": {"orient": "right", "values": [10,25,40,55,70,85,100,115], "title": "Water cut (%)", "labelColor": "#2020ff", "tickColor": "#2020ff", "domainColor": "#2020ff", "titlePadding": 1.5, "labelOverlap": false}}}},
   {"mark": {"type": "point", "shape": "square", "filled": true, "fill": "white", "stroke": "#2020ff", "strokeWidth": 0.8, "size": 16, "opacity": 1}, "encoding": {"x": {"field": "time", "type": "quantitative", "axis": {"values": [0,10,20,30,40,50,60,70,80,90,100], "title": "Time (min)", "labelOverlap": false}}, "y": {"field": "water", "type": "quantitative", "axis": {"orient": "right", "values": [10,25,40,55,70,85,100,115], "title": "Water cut (%)", "labelColor": "#2020ff", "tickColor": "#2020ff", "domainColor": "#2020ff", "titlePadding": 1.5, "labelOverlap": false}}}}
  ]}
 ],
 "resolve": {"scale": {"y": "independent"}}
},
{"width": 197, "height": 160,
 "title": {"text": "Steam-flue gas ratio of 1:33.3", "orient": "bottom", "anchor": "middle", "frame": "group", "offset": 11},
 "layer": [
  {"data": {"name": "E"}, "layer": [
   {"mark": {"type": "line", "color": "black", "strokeWidth": 1}, "encoding": {"x": {"field": "time", "type": "quantitative", "scale": {"domain": [0, 100]}, "axis": {"values": [0,10,20,30,40,50,60,70,80,90,100], "title": "Time (min)", "labelOverlap": false}}, "y": {"field": "oil", "type": "quantitative", "scale": {"domain": [0, 2.8]}, "axis": {"values": [0,0.4,0.8,1.2,1.6,2.0,2.4,2.8], "format": ".1f", "title": "Oil/Liquid production rate (mL/min)", "labelOverlap": false}}}},
   {"mark": {"type": "point", "shape": "square", "filled": true, "color": "black", "size": 16, "opacity": 1}, "encoding": {"x": {"field": "time", "type": "quantitative", "axis": {"values": [0,10,20,30,40,50,60,70,80,90,100], "title": "Time (min)", "labelOverlap": false}}, "y": {"field": "oil", "type": "quantitative", "axis": {"values": [0,0.4,0.8,1.2,1.6,2.0,2.4,2.8], "format": ".1f", "title": "Oil/Liquid production rate (mL/min)", "labelOverlap": false}}}},
   {"mark": {"type": "line", "color": "black", "strokeWidth": 1}, "encoding": {"x": {"field": "time", "type": "quantitative", "axis": {"values": [0,10,20,30,40,50,60,70,80,90,100], "title": "Time (min)", "labelOverlap": false}}, "y": {"field": "liquid", "type": "quantitative", "axis": {"values": [0,0.4,0.8,1.2,1.6,2.0,2.4,2.8], "format": ".1f", "title": "Oil/Liquid production rate (mL/min)", "labelOverlap": false}}}},
   {"mark": {"type": "point", "shape": "circle", "filled": true, "color": "black", "size": 18, "opacity": 1}, "encoding": {"x": {"field": "time", "type": "quantitative", "axis": {"values": [0,10,20,30,40,50,60,70,80,90,100], "title": "Time (min)", "labelOverlap": false}}, "y": {"field": "liquid", "type": "quantitative", "axis": {"values": [0,0.4,0.8,1.2,1.6,2.0,2.4,2.8], "format": ".1f", "title": "Oil/Liquid production rate (mL/min)", "labelOverlap": false}}}},
   {"data": {"name": "cyc"}, "mark": {"type": "rule", "color": "black", "strokeWidth": 0.8}, "encoding": {"x": {"field": "start", "type": "quantitative", "axis": {"values": [0,10,20,30,40,50,60,70,80,90,100], "title": "Time (min)", "labelOverlap": false}}, "x2": {"field": "end"}, "y": {"datum": 2.59, "axis": {"values": [0,0.4,0.8,1.2,1.6,2.0,2.4,2.8], "format": ".1f", "title": "Oil/Liquid production rate (mL/min)", "labelOverlap": false}}}},
   {"data": {"name": "cyc"}, "mark": {"type": "rule", "color": "black", "strokeWidth": 0.8}, "encoding": {"x": {"field": "end", "type": "quantitative", "axis": {"values": [0,10,20,30,40,50,60,70,80,90,100], "title": "Time (min)", "labelOverlap": false}}, "y": {"datum": 2.55, "axis": {"values": [0,0.4,0.8,1.2,1.6,2.0,2.4,2.8], "format": ".1f", "title": "Oil/Liquid production rate (mL/min)", "labelOverlap": false}}, "y2": {"datum": 2.63}}},
   {"data": {"name": "cyc"}, "mark": {"type": "point", "shape": "triangle-left", "filled": true, "color": "black", "size": 10, "opacity": 1}, "encoding": {"x": {"field": "start", "type": "quantitative", "axis": {"values": [0,10,20,30,40,50,60,70,80,90,100], "title": "Time (min)", "labelOverlap": false}}, "y": {"datum": 2.59, "axis": {"values": [0,0.4,0.8,1.2,1.6,2.0,2.4,2.8], "format": ".1f", "title": "Oil/Liquid production rate (mL/min)", "labelOverlap": false}}}},
   {"data": {"name": "cyc"}, "mark": {"type": "point", "shape": "triangle-right", "filled": true, "color": "black", "size": 10, "opacity": 1}, "encoding": {"x": {"field": "end", "type": "quantitative", "axis": {"values": [0,10,20,30,40,50,60,70,80,90,100], "title": "Time (min)", "labelOverlap": false}}, "y": {"datum": 2.59, "axis": {"values": [0,0.4,0.8,1.2,1.6,2.0,2.4,2.8], "format": ".1f", "title": "Oil/Liquid production rate (mL/min)", "labelOverlap": false}}}},
   {"data": {"name": "cyc"}, "mark": {"type": "text", "font": "Liberation Serif", "fontSize": 8, "color": "black"}, "encoding": {"x": {"field": "mid", "type": "quantitative", "axis": {"values": [0,10,20,30,40,50,60,70,80,90,100], "title": "Time (min)", "labelOverlap": false}}, "y": {"datum": 2.68, "axis": {"values": [0,0.4,0.8,1.2,1.6,2.0,2.4,2.8], "format": ".1f", "title": "Oil/Liquid production rate (mL/min)", "labelOverlap": false}}, "text": {"field": "label"}}},
   {"data": {"values": [{"panel": "E"}]}, "mark": {"type": "text", "font": "Liberation Sans", "fontSize": 20, "fontWeight": "bold", "color": "black", "align": "center", "baseline": "alphabetic"}, "encoding": {"x": {"datum": -14.3, "axis": {"values": [0,10,20,30,40,50,60,70,80,90,100], "title": "Time (min)", "labelOverlap": false}}, "y": {"datum": 2.72, "axis": {"values": [0,0.4,0.8,1.2,1.6,2.0,2.4,2.8], "format": ".1f", "title": "Oil/Liquid production rate (mL/min)", "labelOverlap": false}}, "text": {"field": "panel"}}},
   {"data": {"name": "leg"}, "mark": {"type": "point", "opacity": 0, "size": 144}, "encoding": {
     "shape": {"field": "series", "type": "nominal", "scale": {"domain": ["Oil production rate", "Liquid production rate", "Water cut"], "range": ["M-1,0H1M-0.3,-0.3H0.3V0.3H-0.3Z", "M-1,0H1M0.33,0A0.33,0.33 0 1,1 -0.33,0A0.33,0.33 0 1,1 0.33,0Z", "M-1,0H-0.3M0.3,0H1M-0.3,-0.3H0.3V0.3H-0.3Z"]}, "legend": {"orient": "none", "legendX": 57.5, "legendY": 13.7}},
     "fill": {"field": "series", "type": "nominal", "scale": {"domain": ["Oil production rate", "Liquid production rate", "Water cut"], "range": ["black", "black", "white"]}, "legend": {"orient": "none", "legendX": 57.5, "legendY": 13.7}},
     "stroke": {"field": "series", "type": "nominal", "scale": {"domain": ["Oil production rate", "Liquid production rate", "Water cut"], "range": ["black", "black", "#2020ff"]}, "legend": {"orient": "none", "legendX": 57.5, "legendY": 13.7}}}}
  ]},
  {"data": {"name": "E"}, "layer": [
   {"mark": {"type": "line", "color": "#2020ff", "strokeWidth": 1}, "encoding": {"x": {"field": "time", "type": "quantitative", "axis": {"values": [0,10,20,30,40,50,60,70,80,90,100], "title": "Time (min)", "labelOverlap": false}}, "y": {"field": "water", "type": "quantitative", "scale": {"domain": [10, 115]}, "axis": {"orient": "right", "values": [10,25,40,55,70,85,100,115], "title": "Water cut (%)", "labelColor": "#2020ff", "tickColor": "#2020ff", "domainColor": "#2020ff", "titlePadding": 1.5, "labelOverlap": false}}}},
   {"mark": {"type": "point", "shape": "square", "filled": true, "fill": "white", "stroke": "#2020ff", "strokeWidth": 0.8, "size": 16, "opacity": 1}, "encoding": {"x": {"field": "time", "type": "quantitative", "axis": {"values": [0,10,20,30,40,50,60,70,80,90,100], "title": "Time (min)", "labelOverlap": false}}, "y": {"field": "water", "type": "quantitative", "axis": {"orient": "right", "values": [10,25,40,55,70,85,100,115], "title": "Water cut (%)", "labelColor": "#2020ff", "tickColor": "#2020ff", "domainColor": "#2020ff", "titlePadding": 1.5, "labelOverlap": false}}}}
  ]}
 ],
 "resolve": {"scale": {"y": "independent"}}
},
{"width": 197, "height": 160,
 "title": {"text": "Steam-flue gas ratio of 1:100", "orient": "bottom", "anchor": "middle", "frame": "group", "offset": 11},
 "layer": [
  {"data": {"name": "F"}, "layer": [
   {"mark": {"type": "line", "color": "black", "strokeWidth": 1}, "encoding": {"x": {"field": "time", "type": "quantitative", "scale": {"domain": [0, 100]}, "axis": {"values": [0,10,20,30,40,50,60,70,80,90,100], "title": "Time (min)", "labelOverlap": false}}, "y": {"field": "oil", "type": "quantitative", "scale": {"domain": [0, 2.8]}, "axis": {"values": [0,0.4,0.8,1.2,1.6,2.0,2.4,2.8], "format": ".1f", "title": "Oil/Liquid production rate (mL/min)", "labelOverlap": false}}}},
   {"mark": {"type": "point", "shape": "square", "filled": true, "color": "black", "size": 16, "opacity": 1}, "encoding": {"x": {"field": "time", "type": "quantitative", "axis": {"values": [0,10,20,30,40,50,60,70,80,90,100], "title": "Time (min)", "labelOverlap": false}}, "y": {"field": "oil", "type": "quantitative", "axis": {"values": [0,0.4,0.8,1.2,1.6,2.0,2.4,2.8], "format": ".1f", "title": "Oil/Liquid production rate (mL/min)", "labelOverlap": false}}}},
   {"mark": {"type": "line", "color": "black", "strokeWidth": 1}, "encoding": {"x": {"field": "time", "type": "quantitative", "axis": {"values": [0,10,20,30,40,50,60,70,80,90,100], "title": "Time (min)", "labelOverlap": false}}, "y": {"field": "liquid", "type": "quantitative", "axis": {"values": [0,0.4,0.8,1.2,1.6,2.0,2.4,2.8], "format": ".1f", "title": "Oil/Liquid production rate (mL/min)", "labelOverlap": false}}}},
   {"mark": {"type": "point", "shape": "circle", "filled": true, "color": "black", "size": 18, "opacity": 1}, "encoding": {"x": {"field": "time", "type": "quantitative", "axis": {"values": [0,10,20,30,40,50,60,70,80,90,100], "title": "Time (min)", "labelOverlap": false}}, "y": {"field": "liquid", "type": "quantitative", "axis": {"values": [0,0.4,0.8,1.2,1.6,2.0,2.4,2.8], "format": ".1f", "title": "Oil/Liquid production rate (mL/min)", "labelOverlap": false}}}},
   {"data": {"name": "cyc"}, "mark": {"type": "rule", "color": "black", "strokeWidth": 0.8}, "encoding": {"x": {"field": "start", "type": "quantitative", "axis": {"values": [0,10,20,30,40,50,60,70,80,90,100], "title": "Time (min)", "labelOverlap": false}}, "x2": {"field": "end"}, "y": {"datum": 2.59, "axis": {"values": [0,0.4,0.8,1.2,1.6,2.0,2.4,2.8], "format": ".1f", "title": "Oil/Liquid production rate (mL/min)", "labelOverlap": false}}}},
   {"data": {"name": "cyc"}, "mark": {"type": "rule", "color": "black", "strokeWidth": 0.8}, "encoding": {"x": {"field": "end", "type": "quantitative", "axis": {"values": [0,10,20,30,40,50,60,70,80,90,100], "title": "Time (min)", "labelOverlap": false}}, "y": {"datum": 2.55, "axis": {"values": [0,0.4,0.8,1.2,1.6,2.0,2.4,2.8], "format": ".1f", "title": "Oil/Liquid production rate (mL/min)", "labelOverlap": false}}, "y2": {"datum": 2.63}}},
   {"data": {"name": "cyc"}, "mark": {"type": "point", "shape": "triangle-left", "filled": true, "color": "black", "size": 10, "opacity": 1}, "encoding": {"x": {"field": "start", "type": "quantitative", "axis": {"values": [0,10,20,30,40,50,60,70,80,90,100], "title": "Time (min)", "labelOverlap": false}}, "y": {"datum": 2.59, "axis": {"values": [0,0.4,0.8,1.2,1.6,2.0,2.4,2.8], "format": ".1f", "title": "Oil/Liquid production rate (mL/min)", "labelOverlap": false}}}},
   {"data": {"name": "cyc"}, "mark": {"type": "point", "shape": "triangle-right", "filled": true, "color": "black", "size": 10, "opacity": 1}, "encoding": {"x": {"field": "end", "type": "quantitative", "axis": {"values": [0,10,20,30,40,50,60,70,80,90,100], "title": "Time (min)", "labelOverlap": false}}, "y": {"datum": 2.59, "axis": {"values": [0,0.4,0.8,1.2,1.6,2.0,2.4,2.8], "format": ".1f", "title": "Oil/Liquid production rate (mL/min)", "labelOverlap": false}}}},
   {"data": {"name": "cyc"}, "mark": {"type": "text", "font": "Liberation Serif", "fontSize": 8, "color": "black"}, "encoding": {"x": {"field": "mid", "type": "quantitative", "axis": {"values": [0,10,20,30,40,50,60,70,80,90,100], "title": "Time (min)", "labelOverlap": false}}, "y": {"datum": 2.68, "axis": {"values": [0,0.4,0.8,1.2,1.6,2.0,2.4,2.8], "format": ".1f", "title": "Oil/Liquid production rate (mL/min)", "labelOverlap": false}}, "text": {"field": "label"}}},
   {"data": {"values": [{"panel": "F"}]}, "mark": {"type": "text", "font": "Liberation Sans", "fontSize": 20, "fontWeight": "bold", "color": "black", "align": "center", "baseline": "alphabetic"}, "encoding": {"x": {"datum": -14.3, "axis": {"values": [0,10,20,30,40,50,60,70,80,90,100], "title": "Time (min)", "labelOverlap": false}}, "y": {"datum": 2.72, "axis": {"values": [0,0.4,0.8,1.2,1.6,2.0,2.4,2.8], "format": ".1f", "title": "Oil/Liquid production rate (mL/min)", "labelOverlap": false}}, "text": {"field": "panel"}}},
   {"data": {"name": "leg"}, "mark": {"type": "point", "opacity": 0, "size": 144}, "encoding": {
     "shape": {"field": "series", "type": "nominal", "scale": {"domain": ["Oil production rate", "Liquid production rate", "Water cut"], "range": ["M-1,0H1M-0.3,-0.3H0.3V0.3H-0.3Z", "M-1,0H1M0.33,0A0.33,0.33 0 1,1 -0.33,0A0.33,0.33 0 1,1 0.33,0Z", "M-1,0H-0.3M0.3,0H1M-0.3,-0.3H0.3V0.3H-0.3Z"]}, "legend": {"orient": "none", "legendX": 27.5, "legendY": 12.3}},
     "fill": {"field": "series", "type": "nominal", "scale": {"domain": ["Oil production rate", "Liquid production rate", "Water cut"], "range": ["black", "black", "white"]}, "legend": {"orient": "none", "legendX": 27.5, "legendY": 12.3}},
     "stroke": {"field": "series", "type": "nominal", "scale": {"domain": ["Oil production rate", "Liquid production rate", "Water cut"], "range": ["black", "black", "#2020ff"]}, "legend": {"orient": "none", "legendX": 27.5, "legendY": 12.3}}}}
  ]},
  {"data": {"name": "F"}, "layer": [
   {"mark": {"type": "line", "color": "#2020ff", "strokeWidth": 1}, "encoding": {"x": {"field": "time", "type": "quantitative", "axis": {"values": [0,10,20,30,40,50,60,70,80,90,100], "title": "Time (min)", "labelOverlap": false}}, "y": {"field": "water", "type": "quantitative", "scale": {"domain": [10, 115]}, "axis": {"orient": "right", "values": [10,25,40,55,70,85,100,115], "title": "Water cut (%)", "labelColor": "#2020ff", "tickColor": "#2020ff", "domainColor": "#2020ff", "titlePadding": 1.5, "labelOverlap": false}}}},
   {"mark": {"type": "point", "shape": "square", "filled": true, "fill": "white", "stroke": "#2020ff", "strokeWidth": 0.8, "size": 16, "opacity": 1}, "encoding": {"x": {"field": "time", "type": "quantitative", "axis": {"values": [0,10,20,30,40,50,60,70,80,90,100], "title": "Time (min)", "labelOverlap": false}}, "y": {"field": "water", "type": "quantitative", "axis": {"orient": "right", "values": [10,25,40,55,70,85,100,115], "title": "Water cut (%)", "labelColor": "#2020ff", "tickColor": "#2020ff", "domainColor": "#2020ff", "titlePadding": 1.5, "labelOverlap": false}}}}
  ]}
 ],
 "resolve": {"scale": {"y": "independent"}}
}
],
"config": {
 "view": {"stroke": "black", "strokeWidth": 1},
 "font": "Liberation Serif",
 "axis": {"grid": false, "labelFont": "Liberation Serif", "labelFontSize": 8, "labelColor": "black", "titleFont": "Liberation Serif", "titleFontSize": 9.5, "titleFontWeight": "normal", "titleColor": "black", "domainColor": "black", "tickColor": "black", "tickSize": 3, "labelPadding": 1.5, "titlePadding": 4, "labelFlush": false, "labelOverlap": false},
 "axisY": {"titlePadding": 5},
 "legend": {"title": null, "symbolSize": 144, "symbolStrokeWidth": 1, "symbolOpacity": 1, "labelFont": "Liberation Serif", "labelFontSize": 7.5, "labelColor": "black", "labelOffset": 3, "rowPadding": -2.5, "padding": 0},
 "title": {"font": "Liberation Serif", "fontSize": 8.5, "fontWeight": "bold", "color": "black"},
 "concat": {"spacing": -7.4}
}
}
